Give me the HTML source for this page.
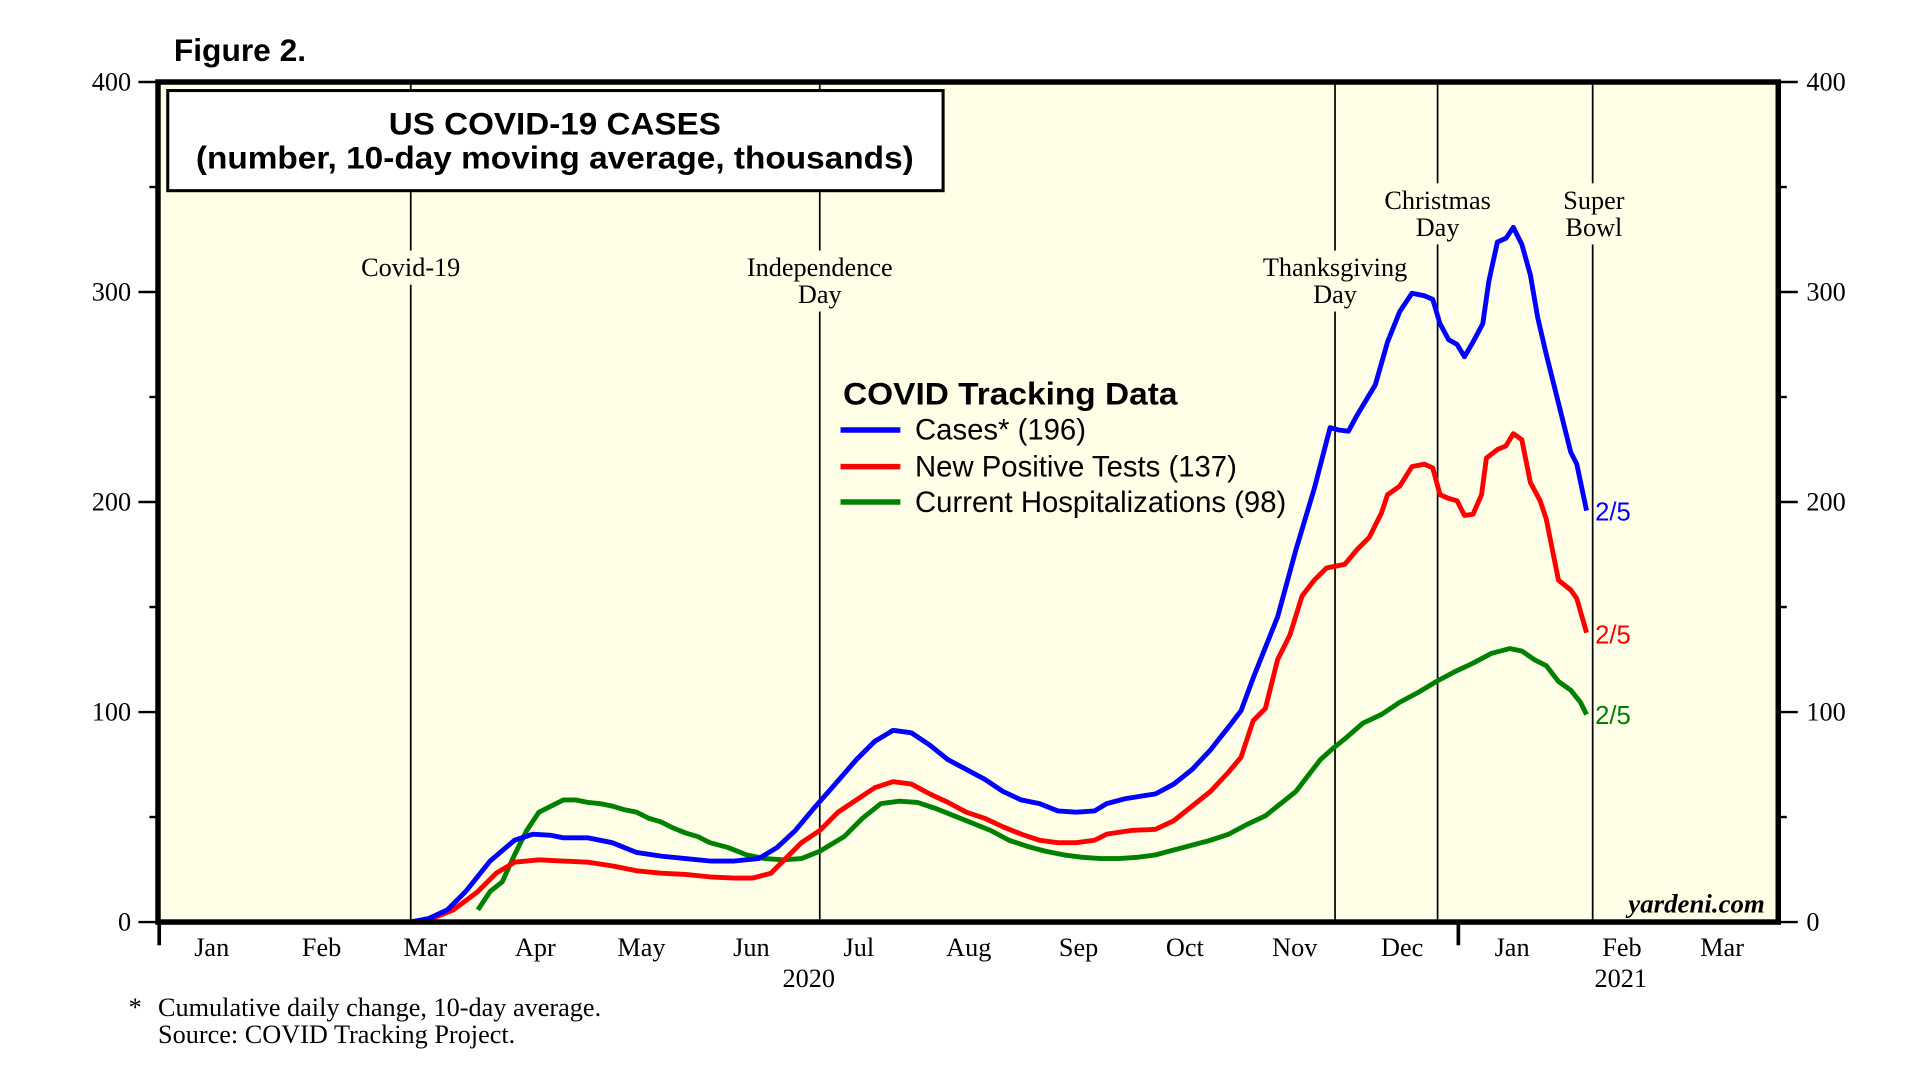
<!DOCTYPE html>
<html><head><meta charset="utf-8"><style>
html,body{margin:0;padding:0;background:#fff;}
svg{display:block;}
.s{font-family:"Liberation Serif",serif;font-size:21.5px;fill:#000;}
.a{font-family:"Liberation Sans",sans-serif;}
</style></head><body>
<svg width="1914" height="1075" viewBox="0 0 1914 1075" xmlns="http://www.w3.org/2000/svg">
<g transform="matrix(1.221,0,0,1.221,1.7,0.2)">
<rect x="128" y="67" width="1327" height="688" fill="#fffee6"/>
<text x="141" y="50" class="a" font-size="26" font-weight="bold">Figure 2.</text>
<g stroke="#000" stroke-width="1.4">
<line x1="335" y1="67" x2="335" y2="755"/>
<line x1="670" y1="67" x2="670" y2="755"/>
<line x1="1092" y1="67" x2="1092" y2="755"/>
<line x1="1176" y1="67" x2="1176" y2="755"/>
<line x1="1303" y1="67" x2="1303" y2="755"/>
</g>
<g fill="#fffee6">
<rect x="288" y="205" width="94" height="28"/>
<rect x="603" y="205" width="134" height="50"/>
<rect x="1026" y="205" width="132" height="50"/>
<rect x="1126" y="150" width="100" height="50"/>
<rect x="1273" y="150" width="62" height="50"/>
</g>
<g class="s" text-anchor="middle">
<text x="335" y="226">Covid-19</text>
<text x="670" y="226">Independence</text><text x="670" y="248">Day</text>
<text x="1092" y="226">Thanksgiving</text><text x="1092" y="248">Day</text>
<text x="1176" y="171">Christmas</text><text x="1176" y="193">Day</text>
<text x="1304" y="171">Super</text><text x="1304" y="193">Bowl</text>
</g>
<rect x="136" y="74" width="635" height="82" fill="#fff" stroke="#000" stroke-width="2.5"/>
<g class="a" font-size="26" font-weight="bold" text-anchor="middle">
<text x="453" y="110" textLength="272" lengthAdjust="spacingAndGlyphs">US COVID-19 CASES</text>
<text x="453" y="138" textLength="588" lengthAdjust="spacingAndGlyphs">(number, 10-day moving average, thousands)</text>
</g>
<text x="689" y="331" class="a" font-size="26" font-weight="bold" textLength="274" lengthAdjust="spacingAndGlyphs">COVID Tracking Data</text>
<g stroke-width="4.5">
<line x1="687" y1="352" x2="736" y2="352" stroke="#0000ff"/>
<line x1="687" y1="382" x2="736" y2="382" stroke="#ff0000"/>
<line x1="687" y1="411" x2="736" y2="411" stroke="#008000"/>
</g>
<g class="a" font-size="24">
<text x="748" y="360">Cases* (196)</text>
<text x="748" y="390">New Positive Tests (137)</text>
<text x="748" y="419">Current Hospitalizations (98)</text>
</g>
<g fill="none" stroke-width="4" stroke-linejoin="round">
<polyline stroke="#008000" points="390,745 400,730 410,722 420,700 430,680 440,665 450,660 460,655 470,655 480,657 490,658 500,660 510,663 520,665 530,670 540,673 550,678 560,682 570,685 580,690 595,694 610,700 625,703 640,704 655,703 670,697 690,685 705,670 720,658 735,656 750,657 765,662 780,668 795,674 810,680 825,688 840,693 855,697 870,700 885,702 900,703 915,703 930,702 945,700 960,696 975,692 990,688 1005,683 1020,675 1035,668 1050,656 1060,648 1070,635 1080,622 1090,613 1100,605 1115,592 1130,585 1145,575 1160,567 1175,558 1190,550 1205,543 1220,535 1235,531 1245,533 1255,540 1265,545 1275,558 1285,565 1293,575 1298,585"/>
<polyline stroke="#ff0000" points="200,755 335,755 350,753 370,745 390,730 405,715 420,706 440,704 460,705 480,706 500,709 520,713 540,715 560,716 580,718 600,719 615,719 630,715 640,705 655,690 670,680 685,665 700,655 715,645 730,640 745,642 760,650 775,657 790,665 805,670 820,677 835,683 850,688 865,690 880,690 895,688 905,683 925,680 945,679 960,672 975,660 990,648 1005,632 1015,620 1025,590 1035,580 1045,540 1055,520 1065,488 1075,475 1085,465 1100,462 1110,450 1120,440 1130,420 1135,405 1145,398 1155,382 1165,380 1172,383 1178,405 1185,408 1192,410 1198,422 1205,421 1212,405 1216,375 1225,368 1232,365 1238,355 1245,360 1252,395 1260,410 1265,425 1275,475 1285,483 1290,490 1298,518"/>
<polyline stroke="#0000ff" points="210,755 335,755 350,752 365,745 380,730 400,705 420,688 435,683 450,684 460,686 480,686 500,690 520,698 540,701 560,703 580,705 600,705 620,703 635,694 650,680 665,662 680,645 700,622 715,607 730,598 745,600 760,610 775,622 790,630 805,638 820,648 835,655 850,658 865,664 880,665 895,664 905,658 920,654 945,650 960,642 975,630 990,614 1005,595 1015,582 1025,555 1035,530 1045,505 1060,450 1075,400 1088,350 1095,352 1103,353 1110,340 1125,315 1135,280 1145,255 1155,240 1165,242 1172,245 1178,265 1185,278 1192,282 1198,292 1205,280 1213,265 1218,230 1225,198 1232,195 1238,186 1245,200 1252,225 1258,260 1265,290 1275,330 1285,370 1290,380 1298,418"/>
</g>
<g class="a" font-size="21">
<text x="1305" y="426" fill="#0000ff">2/5</text>
<text x="1305" y="527" fill="#ff0000">2/5</text>
<text x="1305" y="593" fill="#008000">2/5</text>
</g>
<text x="1444" y="747" text-anchor="end" font-family="Liberation Serif,serif" font-style="italic" font-weight="bold" font-size="22">yardeni.com</text>
<rect x="128" y="67" width="1327" height="688" fill="none" stroke="#000" stroke-width="4.5"/>
<g stroke="#000" stroke-width="2">
<line x1="112" y1="67" x2="128" y2="67"/><line x1="112" y1="239" x2="128" y2="239"/><line x1="112" y1="411" x2="128" y2="411"/><line x1="112" y1="583" x2="128" y2="583"/><line x1="112" y1="755" x2="128" y2="755"/>
<line x1="121" y1="153" x2="128" y2="153"/><line x1="121" y1="325" x2="128" y2="325"/><line x1="121" y1="497" x2="128" y2="497"/><line x1="121" y1="669" x2="128" y2="669"/>
<line x1="1455" y1="67" x2="1471" y2="67"/><line x1="1455" y1="239" x2="1471" y2="239"/><line x1="1455" y1="411" x2="1471" y2="411"/><line x1="1455" y1="583" x2="1471" y2="583"/><line x1="1455" y1="755" x2="1471" y2="755"/>
<line x1="1455" y1="153" x2="1462" y2="153"/><line x1="1455" y1="325" x2="1462" y2="325"/><line x1="1455" y1="497" x2="1462" y2="497"/><line x1="1455" y1="669" x2="1462" y2="669"/>
</g>
<g stroke="#000" stroke-width="3"><line x1="129" y1="755" x2="129" y2="774"/><line x1="1193" y1="755" x2="1193" y2="774"/></g>
<g class="s" text-anchor="end">
<text x="106" y="74">400</text><text x="106" y="246">300</text><text x="106" y="418">200</text><text x="106" y="590">100</text><text x="106" y="762">0</text>
</g>
<g class="s">
<text x="1478" y="74">400</text><text x="1478" y="246">300</text><text x="1478" y="418">200</text><text x="1478" y="590">100</text><text x="1478" y="762">0</text>
</g>
<g class="s" text-anchor="middle">
<text x="172" y="783">Jan</text><text x="262" y="783">Feb</text><text x="347" y="783">Mar</text><text x="437" y="783">Apr</text><text x="524" y="783">May</text><text x="614" y="783">Jun</text><text x="702" y="783">Jul</text><text x="792" y="783">Aug</text><text x="882" y="783">Sep</text><text x="969" y="783">Oct</text><text x="1059" y="783">Nov</text><text x="1147" y="783">Dec</text><text x="1237" y="783">Jan</text><text x="1327" y="783">Feb</text><text x="1409" y="783">Mar</text>
<text x="661" y="808">2020</text><text x="1326" y="808">2021</text>
</g>
<g class="s">
<text x="104" y="832">*</text>
<text x="128" y="832">Cumulative daily change, 10-day average.</text>
<text x="128" y="854">Source: COVID Tracking Project.</text>
</g>
</g>
</svg>
</body></html>
